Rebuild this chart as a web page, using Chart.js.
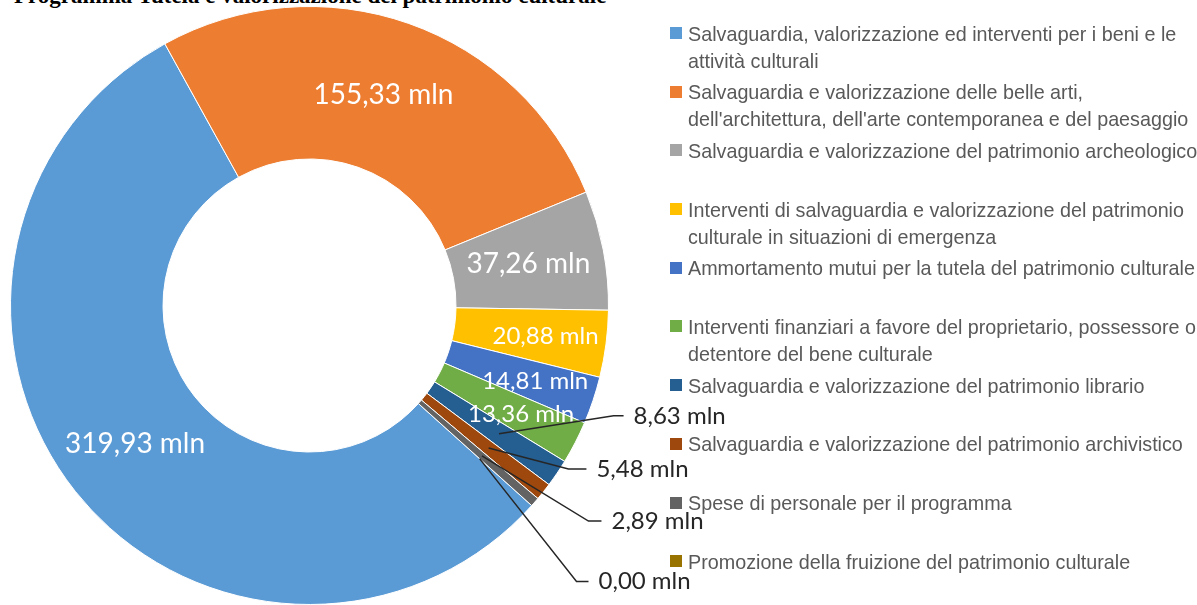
<!DOCTYPE html>
<html>
<head>
<meta charset="utf-8">
<script src="https://cdn.jsdelivr.net/npm/chart.js@4"></script>
<style>
  body { margin: 0; background: #fff; overflow: hidden; }
  #wrap { position: relative; width: 1197px; height: 605px; overflow: hidden; }
  #title { position: absolute; left: 14px; top: -16px; font: bold 23px "Liberation Serif"; line-height: 23px; white-space: nowrap; color: #000; }
  #legend { position: absolute; left: 670px; top: 19.5px; font-family: "Liberation Sans"; font-size: 21px; color: #595959; }
  .item { position: relative; height: 58.7px; line-height: 27px; padding-left: 18px; white-space: nowrap; }
  .item .line { display: block; transform: scaleX(0.94); transform-origin: 0 50%; }
  .box { position: absolute; left: 0; top: 7.5px; width: 12px; height: 12px; }
  canvas { position: absolute; left: 0; top: 0; }
</style>
</head>
<body>
<div id="wrap">
  <div id="title">Programma Tutela e valorizzazione del patrimonio culturale</div>
  <canvas id="donut" width="1197" height="605"></canvas>
  <div id="legend"></div>
</div>
<script>
// categories (legend text, already broken in lines like the original)
var categories = [
  ["Salvaguardia, valorizzazione ed interventi per i beni e le", "attività culturali"],
  ["Salvaguardia e valorizzazione delle belle arti,", "dell'architettura, dell'arte contemporanea e del paesaggio"],
  ["Salvaguardia e valorizzazione del patrimonio archeologico"],
  ["Interventi di salvaguardia e valorizzazione del patrimonio", "culturale in situazioni di emergenza"],
  ["Ammortamento mutui per la tutela del patrimonio culturale"],
  ["Interventi finanziari a favore del proprietario, possessore o", "detentore del bene culturale"],
  ["Salvaguardia e valorizzazione del patrimonio librario"],
  ["Salvaguardia e valorizzazione del patrimonio archivistico"],
  ["Spese di personale per il programma"],
  ["Promozione della fruizione del patrimonio culturale"]
];
// values in millions
var values = [319.93, 155.33, 37.26, 20.88, 14.81, 13.36, 8.63, 5.48, 2.89, 0.00];
var colors = ["#5b9bd5", "#ed7d31", "#a5a5a5", "#ffc000", "#4472c4", "#70ad47", "#255e91", "#9e480e", "#636363", "#997300"];

// where the small slices' callouts go (dx, dy in outer radii from centre, tail length)
var calloutSpots = [[1.017, 0.369, 10], [0.866, 0.547, 18], [0.933, 0.721, 13], [0.893, 0.923, 12]];

function fmt(v) {
  return v.toFixed(2).replace(".", ",") + " mln";
}

var labelPlugin = {
  id: "sliceLabels",
  afterDatasetsDraw: function(chart) {
    var ctx = chart.ctx;
    var meta = chart.getDatasetMeta(0);
    var k = 0;
    ctx.save();
    meta.data.forEach(function(arc, i) {
      var p = arc.getProps(["x", "y", "startAngle", "endAngle", "innerRadius", "outerRadius"]);
      var mid = (p.startAngle + p.endAngle) / 2;
      var ring = p.outerRadius - p.innerRadius;
      var text = fmt(values[i]);
      if (values[i] >= 10) {
        var f = values[i] > 30 ? 0.5 : 0.6;
        var r = p.innerRadius + f * ring;
        ctx.font = (values[i] > 30 ? 28 : 24) + "px Lato";
        ctx.fillStyle = "#fff";
        ctx.textAlign = "center";
        ctx.textBaseline = "middle";
        ctx.fillText(text, p.x + r * Math.cos(mid), p.y + r * Math.sin(mid));
      } else {
        var spot = calloutSpots[k++];
        var rs = p.innerRadius + 0.54 * ring;
        var sx = p.x + rs * Math.cos(mid), sy = p.y + rs * Math.sin(mid);
        var ex = p.x + spot[0] * p.outerRadius, ey = p.y + spot[1] * p.outerRadius;
        ctx.strokeStyle = "#262626";
        ctx.lineWidth = 1.5;
        ctx.beginPath();
        ctx.moveTo(sx, sy);
        ctx.lineTo(ex, ey);
        ctx.lineTo(ex + spot[2], ey);
        ctx.stroke();
        ctx.font = "24px Lato";
        ctx.fillStyle = "#262626";
        ctx.textAlign = "left";
        ctx.textBaseline = "middle";
        ctx.fillText(text, ex + spot[2] + 10, ey);
      }
    });
    ctx.restore();
  }
};

new Chart("donut", {
  type: "doughnut",
  data: {
    labels: categories.map(function(c) { return c.join(" "); }),
    datasets: [{
      data: values,
      backgroundColor: colors,
      borderColor: "#fff",
      borderWidth: 1
    }]
  },
  options: {
    responsive: false,
    animation: false,
    events: [],
    rotation: 132,
    cutout: "49%",
    layout: { padding: { left: 10, top: 6, right: 588, bottom: 0 } },
    plugins: {
      legend: { display: false },
      tooltip: { enabled: false }
    }
  },
  plugins: [labelPlugin]
});

// legend on the right
var legend = document.getElementById("legend");
categories.forEach(function(lines, i) {
  var item = document.createElement("div");
  item.className = "item";
  var box = document.createElement("span");
  box.className = "box";
  box.style.background = colors[i];
  item.appendChild(box);
  lines.forEach(function(line) {
    var span = document.createElement("span");
    span.className = "line";
    span.textContent = line;
    item.appendChild(span);
  });
  legend.appendChild(item);
});
</script>
</body>
</html>
